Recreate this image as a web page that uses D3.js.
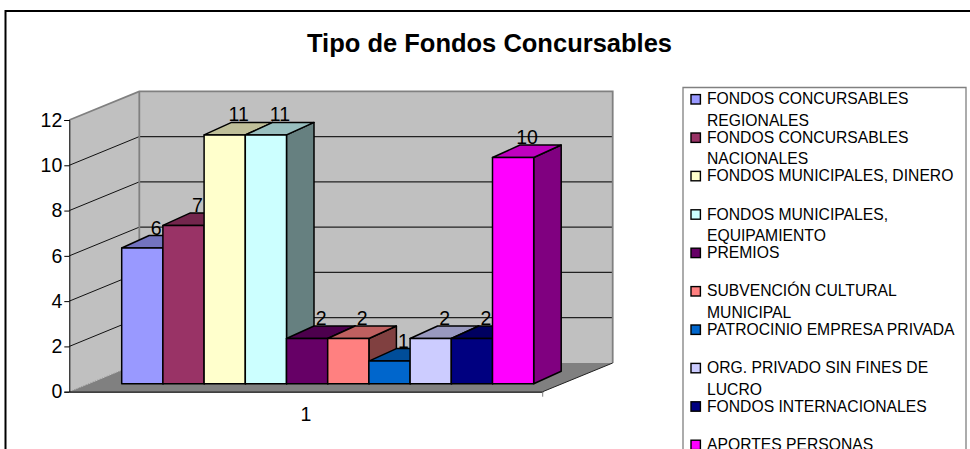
<!DOCTYPE html>
<html><head><meta charset="utf-8">
<script src="https://cdnjs.cloudflare.com/ajax/libs/d3/7.8.5/d3.min.js"></script>
<style>html,body{margin:0;padding:0;background:#fff;overflow:hidden}svg{display:block}text{font-family:"Liberation Sans",Arial,sans-serif;fill:#000}</style>
</head><body><svg id="c" width="970" height="449"></svg>
<script>
const title = "Tipo de Fondos Concursables";
const categories = ["1"];
const seriesNames = [
  ["FONDOS CONCURSABLES","REGIONALES"],
  ["FONDOS CONCURSABLES","NACIONALES"],
  ["FONDOS MUNICIPALES, DINERO"],
  ["FONDOS MUNICIPALES,","EQUIPAMIENTO"],
  ["PREMIOS"],
  ["SUBVENCIÓN CULTURAL","MUNICIPAL"],
  ["PATROCINIO EMPRESA PRIVADA"],
  ["ORG. PRIVADO SIN FINES DE","LUCRO"],
  ["FONDOS INTERNACIONALES"],
  ["APORTES PERSONAS"]
];
const values = [6,7,11,11,2,2,1,2,2,10];
const colors = ["#9999FF","#993366","#FFFFCC","#CCFFFF","#660066","#FF8080","#0066CC","#CCCCFF","#000080","#FF00FF"];
const yTicks = [0,2,4,6,8,10,12];

const svg = d3.select("#c");
const poly = (sel, pts, fill, stroke, sw) => sel.append("polygon").attr("points", pts.map(p=>p.join(",")).join(" "))
  .attr("fill", fill).attr("stroke", stroke||"none").attr("stroke-width", sw||0).attr("stroke-linejoin","round");

// frame
svg.append("path").attr("d","M5.5 449V11H970").attr("fill","none").attr("stroke","#000").attr("stroke-width",2);
svg.append("text").attr("x",489.5).attr("y",52).attr("text-anchor","middle").attr("font-size",25.5).attr("font-weight","bold").text(title);

// scales
const L=69.3,R=542.7,depthX=70,depthY=28.7;
const y = d3.scaleLinear().domain([0,12]).range([391.7,120]);
const x0 = d3.scaleBand().domain(categories).range([L,R]);
const x = d3.scaleBand().domain(d3.range(values.length)).range([121.7,533.7]);
const barY = d3.scaleLinear().domain([0,12]).range([383.7,112.3]);

// walls
const g = svg.append("g");
poly(g,[[L,y(0)],[L+depthX,y(0)-depthY],[R+depthX,y(0)-depthY],[R,y(0)]],"#808080");
poly(g,[[L,y(0)],[L,y(12)],[L+depthX,y(12)-depthY],[L+depthX,y(0)-depthY]],"#C0C0C0");
poly(g,[[L+depthX,y(0)-depthY],[L+depthX,y(12)-depthY],[R+depthX,y(12)-depthY],[R+depthX,y(0)-depthY]],"#C0C0C0");
// gridlines
yTicks.forEach(t=>{
  const yy=y(t);
  if(t>0 && t<12){
    g.append("line").attr("x1",L).attr("y1",yy).attr("x2",L+depthX).attr("y2",yy-depthY).attr("stroke","#111");
    g.append("line").attr("x1",L+depthX).attr("y1",yy-depthY).attr("x2",R+depthX).attr("y2",yy-depthY).attr("stroke","#222").attr("stroke-width",1.2);
  }
});
g.append("path").attr("d",`M${L} ${y(12)}L${L+depthX} ${y(12)-depthY}H${R+depthX}V${y(0)-depthY}`).attr("fill","none").attr("stroke","#808080").attr("stroke-width",1.8);
g.append("line").attr("x1",L+depthX).attr("x2",L+depthX).attr("y1",y(12)-depthY).attr("y2",y(0)-depthY).attr("stroke","#808080").attr("stroke-width",1.8);
g.append("line").attr("x1",L).attr("y1",y(0)).attr("x2",L+depthX).attr("y2",y(0)-depthY).attr("stroke","#999").attr("stroke-dasharray","1.5 1");
g.append("line").attr("x1",R).attr("y1",y(0)).attr("x2",R+depthX).attr("y2",y(0)-depthY).attr("stroke","#222");

// axes
const axY = svg.append("g").attr("transform",`translate(${L},0)`).call(d3.axisLeft(y).tickValues(yTicks).tickSize(5).tickPadding(2));
axY.select(".domain").attr("stroke","#000");
axY.selectAll(".tick line").attr("stroke","#000");
axY.selectAll("text").attr("font-size",19.5).attr("font-family",'"Liberation Sans"').attr("fill","#000");
const axX = svg.append("g").attr("transform",`translate(0,${y(0)})`).call(d3.axisBottom(x0).tickSize(0).tickPadding(15));
axX.select(".domain").attr("stroke","#000").attr("stroke-width",1.3);
axX.selectAll("text").attr("font-size",19.5).attr("font-family",'"Liberation Sans"').attr("fill","#000");
svg.append("line").attr("x1",R).attr("x2",R).attr("y1",y(0)).attr("y2",y(0)+5).attr("stroke","#808080");

// bars
const dx=27.5,dy=12.5;
const bars = svg.append("g").attr("stroke-linejoin","round");
values.forEach((v,i)=>{
  const x1=x(i),x2=x1+x.bandwidth(),yt=barY(v),yb=barY(0),c=d3.rgb(colors[i]);
  const dark=k=>d3.rgb(c.r*k,c.g*k,c.b*k).formatHex();
  poly(bars,[[x2,yb],[x2,yt],[x2+dx,yt-dy],[x2+dx,yb-dy]],dark(.5),"#000",1.5);
  poly(bars,[[x1,yt],[x1+dx,yt-dy],[x2+dx,yt-dy],[x2,yt]],dark(.75),"#000",1.5);
  poly(bars,[[x1,yt],[x2,yt],[x2,yb],[x1,yb]],colors[i],"#000",1.5);
});
const labels = svg.append("g");
values.forEach((v,i)=>{
  labels.append("text").attr("x",x(i)+x.bandwidth()/2+14).attr("y",barY(v)-13.5).attr("text-anchor","middle").attr("font-size",19.5).attr("fill","#111").text(v);
});

// legend
svg.append("path").attr("d","M683 449V87.5H966V449").attr("fill","none").attr("stroke","#808080").attr("stroke-width",1.3);
const leg = svg.append("g");
const step = 38.4;
seriesNames.forEach((lines,i)=>{
  const cy = 99.3+step*i;
  leg.append("rect").attr("x",691).attr("y",cy-4.7).attr("width",9.4).attr("height",9.4).attr("fill",colors[i]).attr("stroke","#000").attr("stroke-width",1.4);
  lines.forEach((t,j)=>{
    leg.append("text").attr("x",707).attr("y",cy+5+j*21.7).attr("font-size",15.7).text(t);
  });
});
</script></body></html>
